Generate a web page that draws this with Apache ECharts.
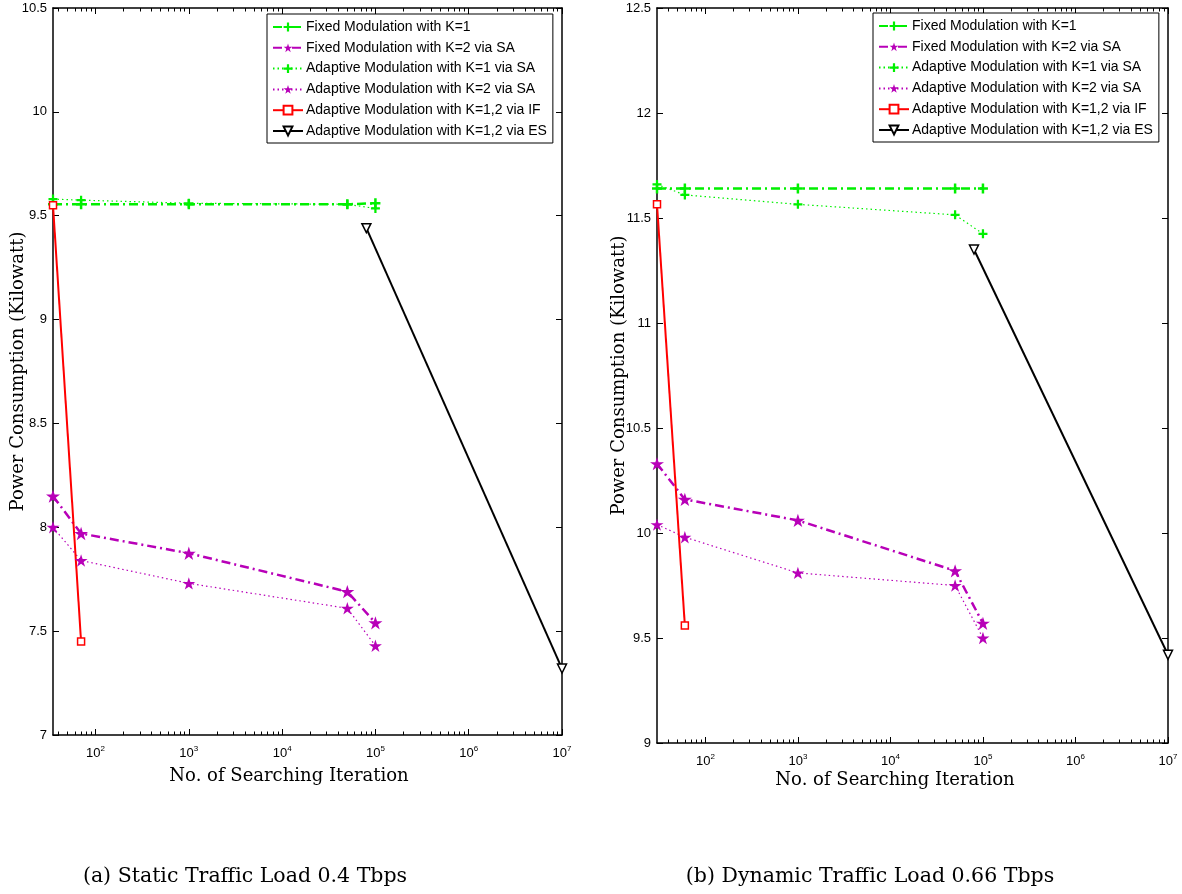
<!DOCTYPE html>
<html>
<head>
<meta charset="utf-8">
<script src="https://cdn.jsdelivr.net/npm/echarts@6/dist/echarts.min.js"></script>
<style>
html,body{margin:0;padding:0;background:#fff;}
#chart{width:1182px;height:894px;}
</style>
</head>
<body>
<div id="chart"></div>
<script>
// ---------- data ----------
const seriesNames = [
  'Fixed Modulation with K=1',
  'Fixed Modulation with K=2 via SA',
  'Adaptive Modulation with K=1 via SA',
  'Adaptive Modulation with K=2 via SA',
  'Adaptive Modulation with K=1,2 via IF',
  'Adaptive Modulation with K=1,2 via ES'
];
// (a) static traffic load
const iterA = [35, 70, 1000, 50000, 100000];
const fixedK1A = [9.555, 9.555, 9.555, 9.555, 9.56];
const fixedK2A = [8.15, 7.97, 7.875, 7.69, 7.54];
const adaptK1A = [9.58, 9.575, 9.56, 9.555, 9.535];
const adaptK2A = [8.0, 7.84, 7.73, 7.61, 7.43];
const ifIterA = [35, 70];
const ifA = [9.55, 7.45];
const esIterA = [80000, 10000000];
const esA = [9.44, 7.32];
// (b) dynamic traffic load
const iterB = [30, 60, 1000, 50000, 100000];
const fixedK1B = [11.64, 11.64, 11.64, 11.64, 11.64];
const fixedK2B = [10.33, 10.16, 10.06, 9.82, 9.57];
const adaptK1B = [11.66, 11.61, 11.565, 11.515, 11.425];
const adaptK2B = [10.04, 9.98, 9.81, 9.75, 9.50];
const ifIterB = [30, 60];
const ifB = [11.565, 9.56];
const esIterB = [80000, 10000000];
const esB = [11.35, 9.42];
// axes
const xMinA = 35, xMinB = 30, xMax = 10000000;
const yRangeA = [7, 10.5], yRangeB = [9, 12.5];
const majorTicks = [100, 1000, 10000, 100000, 1000000, 10000000];
const minorMult = [2, 3, 4, 5, 6, 7, 8, 9];
const minorDecades = [10, 100, 1000, 10000, 100000, 1000000];
const captions = ['(a) Static Traffic Load 0.4 Tbps', '(b) Dynamic Traffic Load 0.66 Tbps'];
const xTitle = 'No. of Searching Iteration';
const yTitle = 'Power Consumption (Kilowatt)';

// ---------- styles ----------
const GREEN = '#00f000', MAG = '#b800b8', RED = '#ff0000', BLACK = '#000000';
const PLUS = 'path://M3,0H5V3H8V5H5V8H3V5H0V3H3Z';
const STAR = 'path://M10,0L12.25,6.91L19.51,6.91L13.63,11.18L15.88,18.09L10,13.82L4.12,18.09L6.37,11.18L0.49,6.91L7.75,6.91Z';
const SANS = 'Liberation Sans';
const SERIF = 'DejaVu Serif';

function minorList(xmin) {
  const out = [];
  minorDecades.forEach(d => minorMult.forEach(m => { const v = d * m; if (v > xmin && v < xMax) out.push(v); }));
  return out;
}
const grids = [
  {left: 53, top: 8, width: 509, height: 727},
  {left: 657, top: 8, width: 511, height: 735}
];
const xMins = [xMinA, xMinB];
const yRanges = [yRangeA, yRangeB];

const xAxes = [], yAxes = [];
[0, 1].forEach(g => {
  const base = {type: 'log', logBase: 10, gridIndex: g, min: xMins[g], max: xMax, splitLine: {show: false}, axisPointer: {show: false}};
  xAxes.push(Object.assign({}, base, {
    position: 'bottom',
    axisLine: {show: true, lineStyle: {color: '#000', width: 1.5}},
    axisTick: {show: true, inside: true, length: 6, customValues: majorTicks, lineStyle: {color: '#000', width: 1}},
    axisLabel: {show: true, customValues: majorTicks, margin: 10,
      formatter: v => '{b|10}{e|' + Math.round(Math.log10(v)) + '}',
      rich: {b: {fontSize: 13, fontFamily: SANS, color: '#000'}, e: {fontSize: 8, fontFamily: SANS, color: '#000', padding: [0, 0, 9, 0]}}}
  }));
  xAxes.push(Object.assign({}, base, {
    position: 'bottom',
    axisLine: {show: false},
    axisTick: {show: true, inside: true, length: 3.5, customValues: minorList(xMins[g]), lineStyle: {color: '#000', width: 1}},
    axisLabel: {show: false}
  }));
  xAxes.push(Object.assign({}, base, {
    position: 'top',
    axisLine: {show: true, lineStyle: {color: '#000', width: 1.5}},
    axisTick: {show: true, inside: true, length: 6, customValues: majorTicks, lineStyle: {color: '#000', width: 1}},
    axisLabel: {show: false}
  }));
  xAxes.push(Object.assign({}, base, {
    position: 'top',
    axisLine: {show: false},
    axisTick: {show: true, inside: true, length: 3.5, customValues: minorList(xMins[g]), lineStyle: {color: '#000', width: 1}},
    axisLabel: {show: false}
  }));
  const ybase = {type: 'value', gridIndex: g, min: yRanges[g][0], max: yRanges[g][1], interval: 0.5, splitLine: {show: false},
    axisLine: {show: true, lineStyle: {color: '#000', width: 1.5}},
    axisTick: {show: true, inside: true, length: 6, lineStyle: {color: '#000', width: 1}}};
  yAxes.push(Object.assign({}, ybase, {
    position: 'left',
    name: yTitle, nameLocation: 'middle', nameRotate: 90, nameGap: g === 0 ? 26 : 28.5, nameMoveOverlap: false,
    nameTextStyle: {fontFamily: SERIF, fontSize: 18, color: '#000'},
    axisLabel: {show: true, margin: 6, fontFamily: SANS, fontSize: 13, color: '#000'}
  }));
  yAxes.push(Object.assign({}, ybase, {position: 'right', axisLabel: {show: false}}));
});

function pairs(xs, ys) { return xs.map((x, i) => [x, ys[i]]); }
function mk(name, g, xs, ys, style) {
  return Object.assign({
    type: 'line', name: name, xAxisIndex: g * 4, yAxisIndex: g * 2,
    data: pairs(xs, ys), animation: false, silent: true, showAllSymbol: true, z: 3
  }, style);
}
const styles = [
  {symbol: PLUS, symbolSize: 10, itemStyle: {color: GREEN}, lineStyle: {color: GREEN, width: 2.5, type: [9, 4, 2, 4]}},
  {symbol: STAR, symbolSize: [14, 13.3], itemStyle: {color: MAG}, lineStyle: {color: MAG, width: 2.5, type: [9, 4, 2, 4]}},
  {symbol: PLUS, symbolSize: 9, itemStyle: {color: GREEN}, lineStyle: {color: GREEN, width: 1.2, type: [1.5, 3]}},
  {symbol: STAR, symbolSize: [13, 12.4], itemStyle: {color: MAG}, lineStyle: {color: MAG, width: 1.2, type: [1.5, 3]}},
  {symbol: 'rect', symbolSize: 7, itemStyle: {color: '#fff', borderColor: RED, borderWidth: 1.5}, lineStyle: {color: RED, width: 2, type: 'solid'}},
  {symbol: 'triangle', symbolRotate: 180, symbolSize: 9, itemStyle: {color: '#fff', borderColor: BLACK, borderWidth: 1.5}, lineStyle: {color: BLACK, width: 2, type: 'solid'}}
];
const dataA = [[iterA, fixedK1A], [iterA, fixedK2A], [iterA, adaptK1A], [iterA, adaptK2A], [ifIterA, ifA], [esIterA, esA]];
const dataB = [[iterB, fixedK1B], [iterB, fixedK2B], [iterB, adaptK1B], [iterB, adaptK2B], [ifIterB, ifB], [esIterB, esB]];
const series = [];
dataA.forEach((d, i) => series.push(mk(seriesNames[i], 0, d[0], d[1], styles[i])));
dataB.forEach((d, i) => series.push(mk(seriesNames[i], 1, d[0], d[1], styles[i])));

const legendBase = {
  orient: 'vertical', data: seriesNames, itemWidth: 30, itemHeight: 11, itemGap: 6.8,
  backgroundColor: '#fff', borderColor: '#000', borderWidth: 1, borderRadius: 0, padding: [6, 6, 5, 5],
  textStyle: {fontFamily: SANS, fontSize: 14, color: '#000', padding: [0, 0, 0, -2]}, selectedMode: false
};

const chart = echarts.init(document.getElementById('chart'), null, {renderer: 'canvas'});
chart.setOption({
  backgroundColor: '#fff',
  animation: false,
  grid: grids,
  xAxis: xAxes,
  yAxis: yAxes,
  legend: [Object.assign({left: 267, top: 14}, legendBase), Object.assign({left: 873, top: 13}, legendBase)],
  graphic: [
    {type: 'text', x: 289, y: 776, style: {text: xTitle, font: '18px "' + SERIF + '"', fill: '#000', align: 'center', verticalAlign: 'middle'}},
    {type: 'text', x: 895, y: 780, style: {text: xTitle, font: '18px "' + SERIF + '"', fill: '#000', align: 'center', verticalAlign: 'middle'}},
    {type: 'text', x: 245, y: 877, style: {text: captions[0], font: '20.5px "' + SERIF + '"', fill: '#000', align: 'center', verticalAlign: 'middle'}},
    {type: 'text', x: 870, y: 877, style: {text: captions[1], font: '20.5px "' + SERIF + '"', fill: '#000', align: 'center', verticalAlign: 'middle'}}
  ],
  series: series
});
</script>
</body>
</html>
